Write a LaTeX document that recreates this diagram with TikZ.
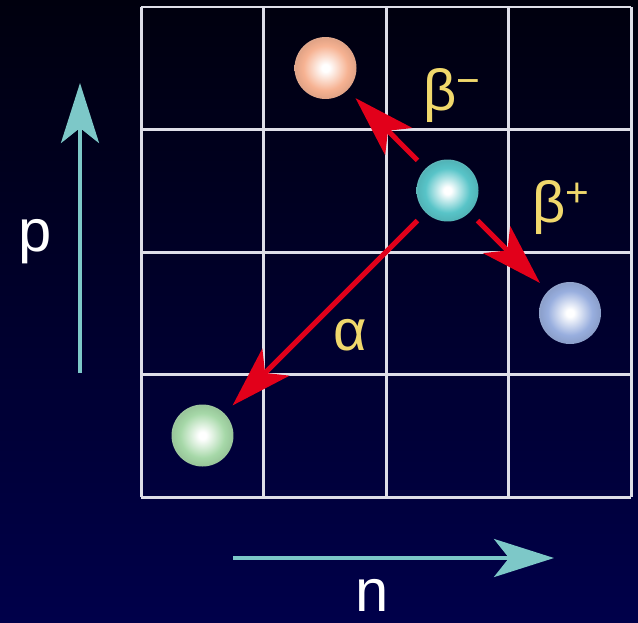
\documentclass[tikz,border=0pt]{standalone}
\usepackage{fontspec}
\setmainfont{Liberation Sans}
\usetikzlibrary{arrows.meta}

\definecolor{bgtop}{RGB}{0,0,14}
\definecolor{bgbottom}{RGB}{0,0,74}
\definecolor{gridgray}{RGB}{222,222,232}
\definecolor{decayred}{RGB}{226,0,26}
\definecolor{axiscyan}{RGB}{125,200,200}
\definecolor{labelyellow}{RGB}{240,216,108}
\definecolor{ballorange}{RGB}{246,178,146}
\definecolor{ballcyan}{RGB}{88,196,200}
\definecolor{ballblue}{RGB}{152,174,222}
\definecolor{ballgreen}{RGB}{166,216,168}
\colorlet{ballcolor}{ballorange}

\pgfdeclareradialshading[ballcolor]{nuclide}{\pgfpoint{0bp}{0bp}}{%
  color(0bp)=(white); color(3bp)=(white); color(18bp)=(ballcolor);
  color(24bp)=(ballcolor!92!black); color(25bp)=(ballcolor!80!gray);
  color(50bp)=(ballcolor!80!gray)}

\tikzset{
  gridline/.style={draw=gridgray, line width=0.06cm},
  ball/.style={circle, minimum size=1.24cm, inner sep=0pt, outer sep=0.23cm,
    /utils/exec={\colorlet{ballcolor}{#1}}, shade, shading=nuclide},
  decay/.style={draw=decayred, line width=0.1cm,
    -{Stealth[length=1.22cm, width=0.76cm, inset=0.3cm]}},
  axis/.style={draw=axiscyan, line width=0.08cm,
    -{Stealth[length=1.2cm, width=0.76cm, inset=0.3cm]}},
  decaylabel/.style={text=labelyellow, anchor=base, inner sep=0pt,
    font=\fontsize{33}{40}\selectfont},
  axislabel/.style={text=white, anchor=base, inner sep=0pt,
    font=\fontsize{34}{40}\selectfont}
}

\begin{document}
\begin{tikzpicture}[x=0.02cm, y=-0.02cm]

\useasboundingbox (0,0) rectangle (638,622);
\fill[top color=bgtop, bottom color=bgbottom] (0,0) rectangle (638,622);

% chart of nuclides
\foreach \k in {0,...,4} {
  \draw[gridline] (141+122.5*\k,7) -- (141+122.5*\k,497);
  \draw[gridline] (141,7+122.5*\k) -- (631,7+122.5*\k);
}

\node[ball=ballorange] (daughterminus) at (325.5,68) {};
\node[ball=ballcyan] (parent) at (447.5,190.5) {};
\node[ball=ballblue] (daughterplus) at (570,313) {};
\node[ball=ballgreen] (daughteralpha) at (202.5,435.5) {};

\draw[decay] (parent) -- (daughterminus);
\draw[decay] (parent) -- (daughterplus);
\draw[decay] (parent) -- (daughteralpha);

\node[decaylabel] (betaminus) at (452,110) {β\textsuperscript{−}};
\node[decaylabel] (betaplus) at (561,222) {β\textsuperscript{+}};
\node[decaylabel] (alpha) at (350,350) {α};

% axes
\coordinate (ptail) at (80,373);
\coordinate (phead) at (80,83);
\draw[axis] (ptail) -- (phead);
\node[axislabel] (plabel) at (35.5,251) {p};

\coordinate (ntail) at (233,558);
\coordinate (nhead) at (554,558);
\draw[axis] (ntail) -- (nhead);
\node[axislabel] (nlabel) at (372,611) {n};

\end{tikzpicture}
\end{document}
